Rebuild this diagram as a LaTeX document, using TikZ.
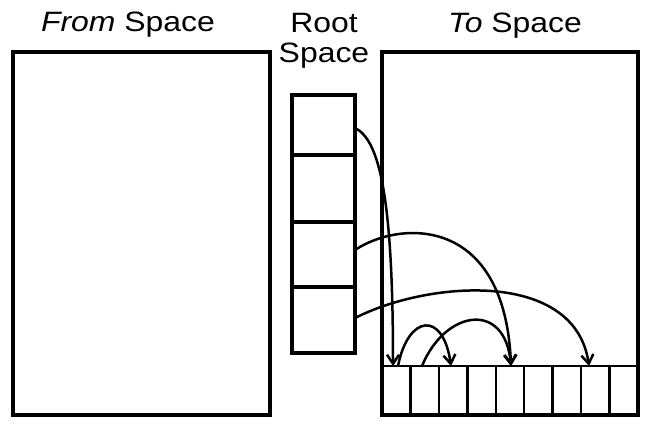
\documentclass[tikz,border=0pt]{standalone}
\usepackage{fontspec}
\setmainfont{Liberation Sans}
\usetikzlibrary{arrows.meta}
\newcommand{\widetxt}[1]{\scalebox{1.14}[1]{#1}}
\begin{document}
\begin{tikzpicture}[x=1pt,y=-1pt,
  box/.style={draw,line width=4pt},
  cell/.style={draw,line width=2.5pt},
  ptr/.style={line width=2.5pt,-{Straight Barb[length=9pt,width=12pt,line width=2.5pt]}},
  lbl/.style={font=\fontsize{28}{32}\selectfont,inner sep=0pt,anchor=base}]
\useasboundingbox (0,0) rectangle (656,430);
% From space
\draw[box] (13,52) rectangle (270,415);
\node[lbl] (fromlbl) at (128,32) {\widetxt{\textit{From} Space}};
% Root space
\node[lbl] (rootlbl) at (324,33) {\widetxt{Root}};
\node[lbl] (rootlbl2) at (324,63) {\widetxt{Space}};
\draw[box] (292,95) rectangle (355,353);
\draw[box] (292,155) -- (355,155);
\draw[box] (292,222) -- (355,222);
\draw[box] (292,287) -- (355,287);
\coordinate (r1) at (355,128);
\coordinate (r3) at (355,250);
\coordinate (r4) at (355,318);
% To space
\node[lbl] (tolbl) at (515,33) {\widetxt{\textit{To} Space}};
\draw[box] (382,52) rectangle (638,415);
\draw[cell] (382,366) -- (638,366);
\foreach \i in {1,...,8}{
  \draw[cell] ({382+\i*28.44},366) -- ({382+\i*28.44},415);
}
\coordinate (c1) at (393,366);
\coordinate (c1s) at (398,366);
\coordinate (c2s) at (422,366);
\coordinate (c3) at (451,366);
\coordinate (c5) at (511,366);
\coordinate (c7) at (589,366);
% pointers
\draw[ptr] (r1) .. controls (380,140) and (393,200) .. (c1);
\draw[ptr] (r3) .. controls (400,220) and (505,215) .. (c5);
\draw[ptr] (r4) .. controls (430,280) and (575,270) .. (c7);
\draw[ptr] (c1s) .. controls (408,315) and (443,310) .. (c3);
\draw[ptr] (c2s) .. controls (445,310) and (505,300) .. (c5);
\end{tikzpicture}
\end{document}
